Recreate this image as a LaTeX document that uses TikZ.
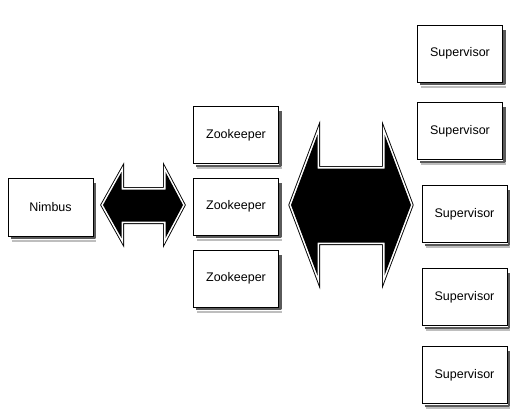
\documentclass[tikz,border=0pt]{standalone}
\usepackage{fontspec}
\setmainfont{Liberation Sans}
\usetikzlibrary{positioning, calc}
\definecolor{shadowdark}{RGB}{90,90,90}
\definecolor{shadowlight}{RGB}{190,190,190}
\tikzset{
    box/.style={rectangle, draw=black, fill=white, line width=0.9pt, minimum width=85pt, minimum height=57pt, inner sep=0pt,
        font=\fontsize{12.5}{15}\selectfont},
    shadowline/.style={draw=shadowdark, line width=2.2pt, line join=round},
    shadowhalo/.style={draw=shadowlight, line width=2pt, line join=round},
    arrowrim/.style={draw=black, line width=5pt, line join=miter, miter limit=20},
    arrowgap/.style={draw=white, line width=3.2pt, line join=miter, miter limit=20},
    arrowbody/.style={fill=black}
}
% soft shadow under the bottom and right side of a box
\newcommand{\boxshadow}[1]{%
    \draw[shadowhalo] ([shift={(4,4.2)}]#1.south west) -- ([shift={(2.6,4.2)}]#1.south east);
    \draw[shadowline] ([shift={(3,1.7)}]#1.south west) -- ([shift={(1.5,1.7)}]#1.south east) -- ([shift={(1.5,5)}]#1.north east);}
\newcommand{\blockarrow}[1]{%
    \path[arrowrim] #1; \path[arrowgap] #1; \path[arrowbody] #1;}
\begin{document}
\begin{tikzpicture}[x=1pt, y=-1pt]
\useasboundingbox (0,0) rectangle (523,413);

% Master node
\node[box, minimum height=58pt] (nimbus) at (50.5,207) {Nimbus};

% Zookeeper ensemble
\node[box] (zk1) at (236,135) {Zookeeper};
\node[box] (zk2) at (236,206.5) {Zookeeper};
\node[box] (zk3) at (236,278.5) {Zookeeper};

% Worker nodes
\node[box] (sup1) at (460,53.5) {Supervisor};
\node[box] (sup2) at (460,131) {Supervisor};
\node[box] (sup3) at (464.5,214) {Supervisor};
\node[box] (sup4) at (464.5,297) {Supervisor};
\node[box] (sup5) at (464.5,375) {Supervisor};

% Shadows
\boxshadow{nimbus}
\boxshadow{zk1} \boxshadow{zk2} \boxshadow{zk3}
\boxshadow{sup1} \boxshadow{sup2} \boxshadow{sup3} \boxshadow{sup4} \boxshadow{sup5}

% Arrow between nimbus and zookeepers
\blockarrow{(103,205) -- (121.5,172) -- (121.5,189.5) -- (165.5,189.5) -- (165.5,172) -- (183,205)
    -- (165.5,238) -- (165.5,221.5) -- (121.5,221.5) -- (121.5,238) -- cycle}

% Arrow between zookeepers and supervisors
\blockarrow{(291,205) -- (317.5,134.5) -- (317.5,168.5) -- (384.5,168.5) -- (384.5,134.5) -- (411,205)
    -- (384.5,275.5) -- (384.5,242.5) -- (317.5,242.5) -- (317.5,275.5) -- cycle}
\end{tikzpicture}
\end{document}
